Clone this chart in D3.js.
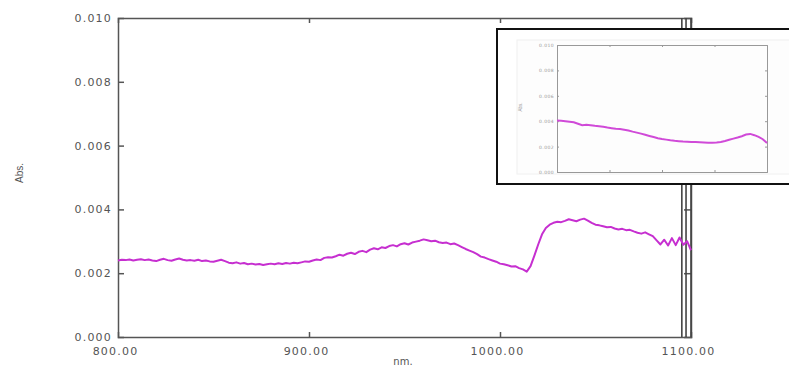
<!DOCTYPE html>
<html>
<head>
<meta charset="utf-8">
<script src="https://cdn.jsdelivr.net/npm/d3@7"></script>
<style>
  body { margin: 0; background: #fff; }
  svg { display: block; }
  .tick text { font-family: "DejaVu Sans", sans-serif; }
</style>
</head>
<body>
<div id="chart"></div>
<script>
// Spectrum, 800-1100 nm every 2 nm
const wavelengths = d3.range(800, 1101, 2);
const absorbance = [
  0.00240, 0.00242, 0.00241, 0.00243, 0.00240, 0.00242, 0.00244, 0.00241, 0.00243, 0.00240,
  0.00238, 0.00242, 0.00245, 0.00241, 0.00239, 0.00243, 0.00246, 0.00242, 0.00240, 0.00241,
  0.00239, 0.00242, 0.00238, 0.00240, 0.00237, 0.00236, 0.00239, 0.00242, 0.00238, 0.00233,
  0.00231, 0.00234, 0.00230, 0.00232, 0.00228, 0.00230, 0.00227, 0.00229, 0.00226, 0.00228,
  0.00230, 0.00228, 0.00231, 0.00229, 0.00232, 0.00230, 0.00233, 0.00231, 0.00234, 0.00237,
  0.00236, 0.00240, 0.00243, 0.00241, 0.00248, 0.00250, 0.00249, 0.00253, 0.00258, 0.00255,
  0.00261, 0.00264, 0.00260, 0.00267, 0.00270, 0.00266, 0.00274, 0.00278, 0.00275, 0.00281,
  0.00279, 0.00285, 0.00288, 0.00284, 0.00291, 0.00294, 0.00290, 0.00296, 0.00299, 0.00302,
  0.00306, 0.00303, 0.00300, 0.00302, 0.00297, 0.00295, 0.00296, 0.00291, 0.00293, 0.00288,
  0.00282, 0.00276, 0.00271, 0.00266, 0.00260, 0.00252, 0.00249, 0.00244, 0.00240, 0.00236,
  0.00230, 0.00228, 0.00225, 0.00221, 0.00222, 0.00216, 0.00212, 0.00205, 0.00222, 0.00255,
  0.00290, 0.00322, 0.00342, 0.00352, 0.00358, 0.00361, 0.00360, 0.00364, 0.00369, 0.00366,
  0.00363, 0.00368, 0.00371, 0.00365, 0.00358, 0.00352, 0.00350, 0.00347, 0.00344, 0.00345,
  0.00340, 0.00337, 0.00339, 0.00335, 0.00336, 0.00331, 0.00327, 0.00324, 0.00328, 0.00322,
  0.00316, 0.00303, 0.00290, 0.00305, 0.00287, 0.00310, 0.00288, 0.00312, 0.00289, 0.00300,
  0.00272
];
const yTicks = [0, 0.002, 0.004, 0.006, 0.008, 0.010];
const xTicks = [800, 900, 1000, 1100];
const breakLines = [1095.2, 1097.4, 1100];

// Inset spectrum (no x labels shown), position 0-100
const insetPos = d3.range(0, 101, 2);
const insetAbs = [
  0.00405, 0.00403, 0.00400, 0.00396, 0.00392, 0.00380, 0.00368, 0.00372, 0.00369, 0.00364,
  0.00360, 0.00356, 0.00350, 0.00345, 0.00340, 0.00338, 0.00333, 0.00327, 0.00318, 0.00310,
  0.00302, 0.00293, 0.00284, 0.00275, 0.00266, 0.00260, 0.00255, 0.00250, 0.00246, 0.00243,
  0.00240, 0.00239, 0.00237, 0.00236, 0.00235, 0.00233, 0.00231, 0.00230, 0.00232, 0.00236,
  0.00244, 0.00254, 0.00263, 0.00272, 0.00282, 0.00295, 0.00300, 0.00290, 0.00276, 0.00258,
  0.00228
];
const insetXTicks = [25, 50, 75];

const W = 789, H = 367;
const margin = { top: 18, right: 98, bottom: 30, left: 118 };
const width  = W - margin.left - margin.right;
const height = H - margin.top - margin.bottom;

const svg = d3.select("#chart").append("svg")
  .attr("width", W).attr("height", H);

const g = svg.append("g")
  .attr("transform", `translate(${margin.left},${margin.top})`);

const x = d3.scaleLinear().domain([800, 1100]).range([0, width]);
const y = d3.scaleLinear().domain([0, 0.010]).range([height, 0]);

const fmt3 = d3.format(".3f");
const fmt2 = d3.format(".2f");

// Axes
const yAxis = g.append("g")
  .call(d3.axisLeft(y).tickValues(yTicks).tickFormat(fmt3).tickSize(-6).tickPadding(6));
const xAxis = g.append("g")
  .attr("transform", `translate(0,${height})`)
  .call(d3.axisBottom(x).tickValues(xTicks).tickFormat(fmt2).tickSize(-5).tickPadding(10));
g.append("g")
  .call(d3.axisTop(x).tickValues([900, 1000]).tickFormat("").tickSize(-5));
g.append("g")
  .attr("transform", `translate(${width},0)`)
  .call(d3.axisRight(y).tickValues(yTicks).tickFormat("").tickSize(-7));

g.selectAll("g").attr("color", "#555");
g.selectAll(".domain, .tick line").attr("stroke-width", 1.5);
yAxis.selectAll(".tick text").style("font-size", "11px").style("letter-spacing", "1.2px");
xAxis.selectAll(".tick text").style("font-size", "11px").style("letter-spacing", "1.2px")
  .attr("dx", "-3");
g.selectAll(".tick").filter(d => d === 800 || d === 1100 || d === 0 || d === 0.010)
  .select("line").remove();

// right-hand break lines
g.selectAll(".brk").data(breakLines).join("line")
  .attr("class", "brk")
  .attr("x1", d => x(d)).attr("x2", d => x(d))
  .attr("y1", 0).attr("y2", height)
  .attr("stroke", "#444").attr("stroke-width", 1.6);

// spectrum
const line = d3.line()
  .x((d, i) => x(wavelengths[i]))
  .y(d => y(d));
g.append("path")
  .datum(absorbance)
  .attr("d", line)
  .attr("fill", "none")
  .attr("stroke", "#c62fd0")
  .attr("stroke-width", 2)
  .attr("stroke-linejoin", "round");

// axis titles
svg.append("text")
  .attr("transform", "translate(23,173) rotate(-90)")
  .attr("text-anchor", "middle")
  .style("font-family", "Liberation Sans, Arial, sans-serif")
  .style("font-size", "10px").attr("fill", "#555")
  .text("Abs.");
svg.append("text")
  .attr("x", 403).attr("y", 365)
  .attr("text-anchor", "middle")
  .style("font-family", "DejaVu Sans, sans-serif")
  .style("font-size", "10px").attr("fill", "#555")
  .text("nm.");

// Inset box
svg.append("rect")
  .attr("x", 497).attr("y", 29).attr("width", 320).attr("height", 155)
  .attr("fill", "#fff").attr("stroke", "#111").attr("stroke-width", 2);
svg.append("rect")
  .attr("x", 517).attr("y", 40).attr("width", 290).attr("height", 134)
  .attr("fill", "#fdfdfd").attr("stroke", "#f0f0f0");

const ins = svg.append("g").attr("transform", "translate(557,45)");
const iw = 210, ih = 127;
const ix = d3.scaleLinear().domain([0, 100]).range([0, iw]);
const iy = d3.scaleLinear().domain([0, 0.010]).range([ih, 0]);

ins.append("g")
  .call(d3.axisLeft(iy).tickValues(yTicks).tickFormat(fmt3).tickSize(-2).tickPadding(3));
ins.append("g").attr("transform", `translate(${iw},0)`)
  .call(d3.axisRight(iy).tickValues(yTicks).tickFormat("").tickSize(-2));
ins.append("g").attr("transform", `translate(0,${ih})`)
  .call(d3.axisBottom(ix).tickValues(insetXTicks).tickFormat("").tickSize(-2));
ins.append("g")
  .call(d3.axisTop(ix).tickValues(insetXTicks).tickFormat("").tickSize(-2));
ins.selectAll("g").attr("color", "#999");
ins.selectAll(".domain, .tick line").attr("stroke-width", 1);
ins.selectAll(".tick text").style("font-size", "4.5px")
  .style("letter-spacing", "0.4px");

ins.append("path")
  .datum(insetAbs)
  .attr("d", d3.line().x((d, i) => ix(insetPos[i])).y(d => iy(d)))
  .attr("fill", "none")
  .attr("stroke", "#d04ad8")
  .attr("stroke-width", 2);

svg.append("text")
  .attr("transform", "translate(522,107) rotate(-90)")
  .attr("text-anchor", "middle")
  .style("font-family", "Liberation Sans, Arial, sans-serif")
  .style("font-size", "4.5px").attr("fill", "#999")
  .text("Abs.");
</script>
</body>
</html>
